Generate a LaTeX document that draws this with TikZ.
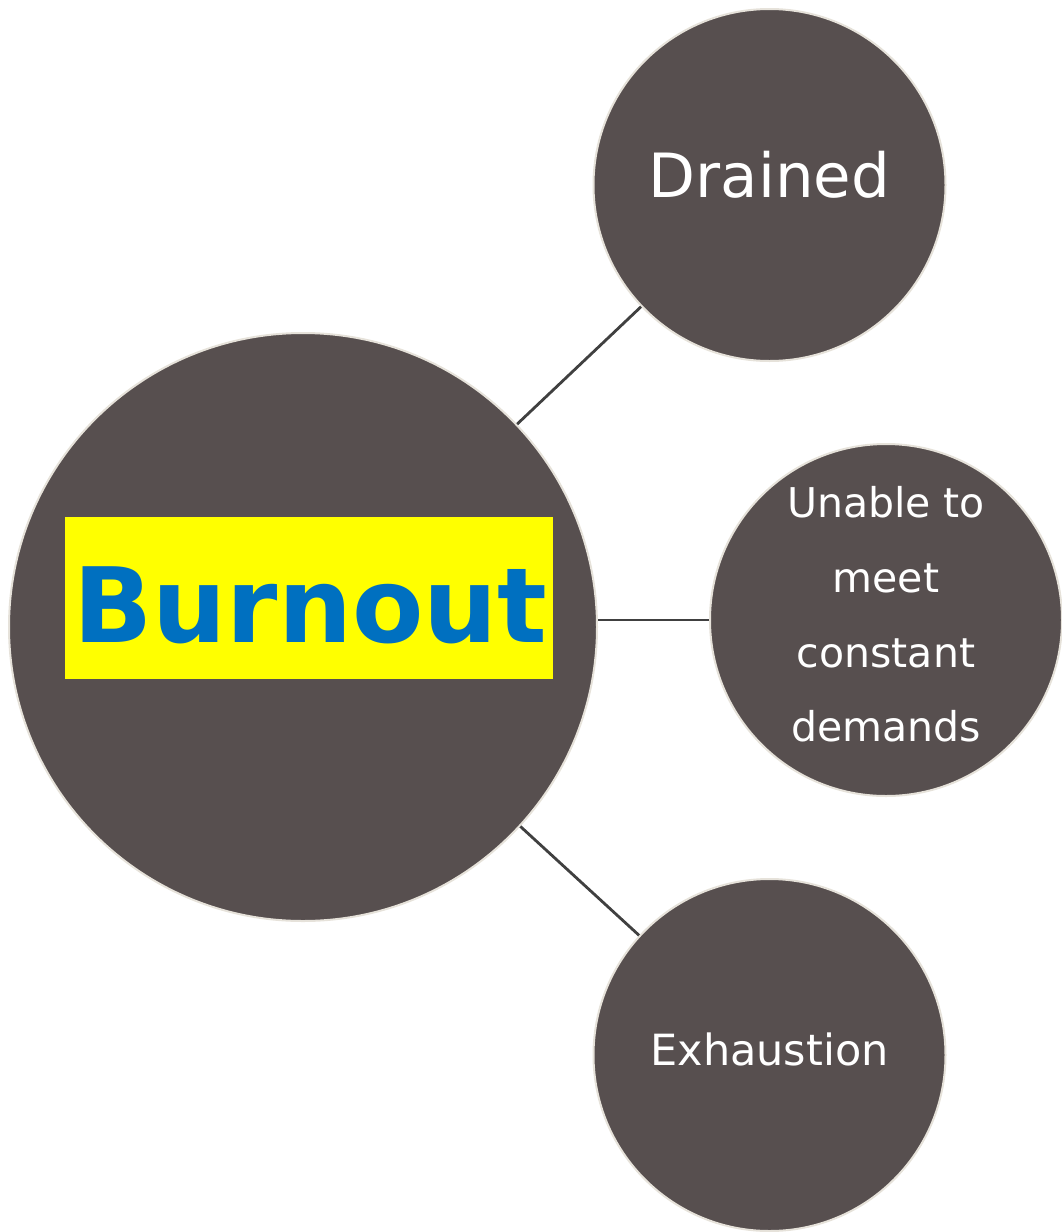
\documentclass[tikz,border=0pt]{standalone}
\usepackage{fontspec}
\setmainfont{DejaVu Sans}
\definecolor{circfill}{HTML}{574F4F}
\definecolor{circedge}{HTML}{E6E2DA}
\definecolor{linkcol}{HTML}{404040}
\definecolor{burnblue}{HTML}{0070C0}
\definecolor{burnyellow}{HTML}{FFFF00}
\tikzset{
  bubble/.style={circle, fill=circfill, draw=circedge, line width=2pt, inner sep=0pt},
  link/.style={draw=linkcol, line width=2.8pt},
  lbl/.style={text=white, inner sep=0pt, anchor=base, align=center},
}
\begin{document}
\begin{tikzpicture}[x=1pt,y=-1pt]
\useasboundingbox (0,0) rectangle (1061,1232);
\node[bubble, minimum size=588pt] (main) at (303,627) {};
\node[bubble, minimum size=352pt] (drained) at (769.5,185) {};
\node[bubble, minimum size=352pt] (unable) at (886,620) {};
\node[bubble, minimum size=352pt] (exh) at (769.5,1055) {};
\draw[link] (main) -- (drained);
\draw[link] (unable.west) -- (unable.west -| main.east);
\draw[link] (main) -- (exh);
\node[fill=burnyellow, minimum width=488pt, minimum height=162pt, inner sep=0pt] (box) at (309,598) {};
\node[inner sep=0pt, anchor=base, text=burnblue, font=\fontsize{104}{120}\selectfont\bfseries] (burn) at (310.5,642) {Burnout};
\node[lbl, font=\fontsize{61}{72}\selectfont] (tdrained) at (769.5,197) {Drained};
\node[lbl, font=\fontsize{43}{50}\selectfont] (texh) at (769.5,1065) {Exhaustion};
\node[lbl, font=\fontsize{41}{48}\selectfont] (tu1) at (886,517) {Unable to};
\node[lbl, font=\fontsize{41}{48}\selectfont] (tu2) at (886,592) {meet};
\node[lbl, font=\fontsize{41}{48}\selectfont] (tu3) at (886,667) {constant};
\node[lbl, font=\fontsize{41}{48}\selectfont] (tu4) at (886,741) {demands};
\end{tikzpicture}
\end{document}
